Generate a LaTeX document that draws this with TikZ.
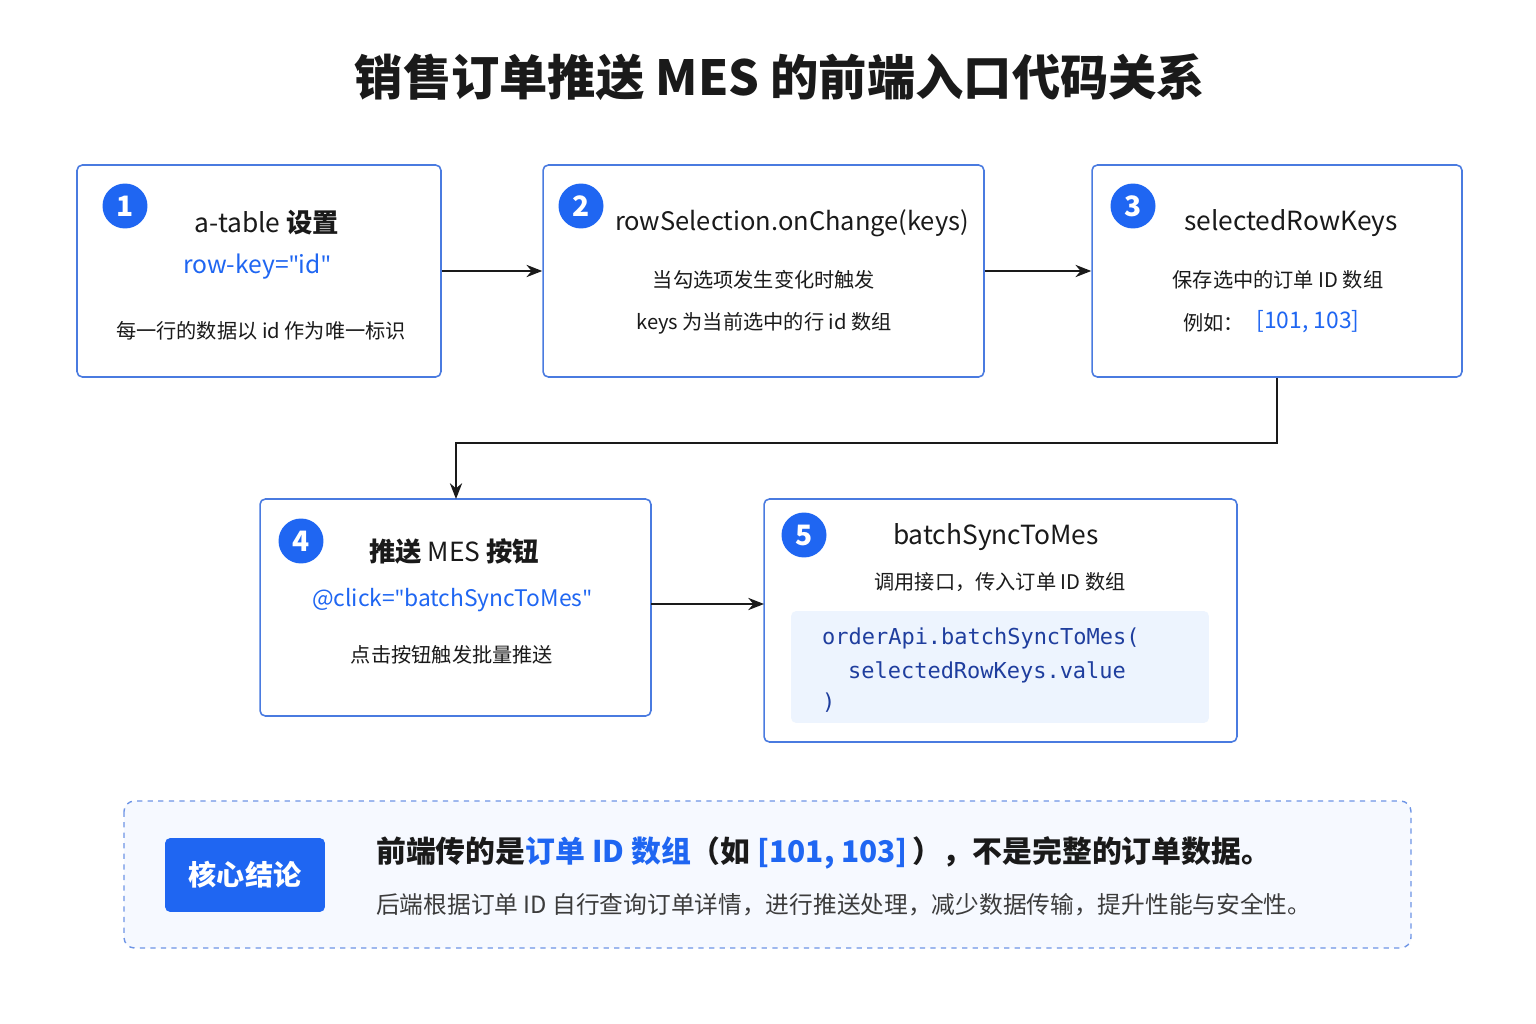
\documentclass[tikz,border=0pt]{standalone}
\usepackage{fontspec}
\setmainfont{Noto Sans CJK SC}
\newfontfamily\codefont{DejaVu Sans Mono}
\newfontfamily\latinfont{Noto Sans}
\usetikzlibrary{arrows.meta}
\definecolor{mainblue}{HTML}{1F66F2}
\definecolor{boxline}{HTML}{4A7BE0}
\definecolor{codebg}{HTML}{EDF4FE}
\definecolor{notebg}{HTML}{F6F9FF}
\definecolor{codeink}{HTML}{1F3E9E}
\definecolor{ink}{HTML}{1A1A1A}
\newcommand{\dq}{{\latinfont\symbol{34}}}
\tikzset{
  box/.style={draw=boxline, line width=0.9pt, rounded corners=3pt, fill=white, inner sep=0pt},
  num/.style={circle, fill=mainblue, text=white, minimum size=0.9cm, inner sep=0pt, font=\fontsize{16}{16}\selectfont\bfseries},
  head/.style={font=\fontsize{15}{17}\selectfont, text=ink},
  body/.style={font=\fontsize{11.5}{14}\selectfont, text=ink},
  key/.style={font=\fontsize{14}{16}\selectfont, text=mainblue},
  flow/.style={-{Stealth[length=9pt,width=7pt]}, line width=1pt, ink}
}
\begin{document}
\begin{tikzpicture}[x=0.02cm, y=-0.02cm]
\useasboundingbox[fill=white] (0,0) rectangle (1536,1024);
\node[font=\fontsize{27.5}{31}\selectfont\bfseries, text=ink] (title) at (780,77) {销售订单推送 MES 的前端入口代码关系};
% step boxes
\node[box, minimum width=7.28cm, minimum height=4.24cm] (b1) at (259,271) {};
\node[box, minimum width=8.82cm, minimum height=4.24cm] (b2) at (763.5,271) {};
\node[box, minimum width=7.40cm, minimum height=4.24cm] (b3) at (1277,271) {};
\node[box, minimum width=7.82cm, minimum height=4.34cm] (b4) at (455.5,607.5) {};
\node[box, minimum width=9.46cm, minimum height=4.86cm] (b5) at (1000.5,620.5) {};
% box 1
\node[num] (n1) at (125,206) {1};
\node[head] (h1) at (267,223) {a-table \textbf{设置}};
\node[key] (k1) at (257,267) {row-key=\dq id\dq};
\node[body] (t1) at (261,331) {每一行的数据以 id 作为唯一标识};
% box 2
\node[num] (n2) at (581,206) {2};
\node[head, font=\fontsize{14.5}{17}\selectfont] (h2) at (792,223) {rowSelection.onChange(keys)};
\node[body] (t2a) at (764,280) {当勾选项发生变化时触发};
\node[body] (t2b) at (764,323) {keys 为当前选中的行 id 数组};
% box 3
\node[num] (n3) at (1133,206) {3};
\node[head] (h3) at (1291,223) {selectedRowKeys};
\node[body] (t3a) at (1278,280) {保存选中的订单 ID 数组};
\node[body, anchor=east] (t3b) at (1250,323) {例如：};
\node[key, font=\fontsize{13}{16}\selectfont] (k3) at (1308,322) {[101,\ 103]};
% box 4
\node[num] (n4) at (301,541) {4};
\node[head] (h4) at (454,552) {\textbf{推送} MES \textbf{按钮}};
\node[key, font=\fontsize{13}{16}\selectfont] (k4) at (452,600) {@click=\dq batchSyncToMes\dq};
\node[body] (t4) at (452,655) {点击按钮触发批量推送};
% box 5
\node[num] (n5) at (804,535) {5};
\node[head] (h5) at (996,537) {batchSyncToMes};
\node[body] (t5) at (1000,582) {调用接口，传入订单 ID 数组};
\node[fill=codebg, rounded corners=3pt, minimum width=8.36cm, minimum height=2.24cm, inner sep=0pt] (code) at (1000,667) {};
\node[anchor=west, text=codeink, font=\codefont\fontsize{12.5}{15}\selectfont] (c1) at (816,638) {orderApi.batchSyncToMes(};
\node[anchor=west, text=codeink, font=\codefont\fontsize{12.5}{15}\selectfont] (c2) at (842,672) {selectedRowKeys.value};
\node[anchor=west, text=codeink, font=\codefont\fontsize{12.5}{15}\selectfont] (c3) at (816,703) {)};
% connectors
\draw[flow] (b1.east) -- (b2.west);
\draw[flow] (b2.east) -- (b3.west);
\coordinate (turn) at (1277,443);
\draw[flow] (b3.south) -- (turn) -- (456,443) -- (456,499);
\draw[flow] (651,604) -- (764,604);
% conclusion
\draw[boxline!80, dashed, line width=0.8pt, rounded corners=6pt, fill=notebg] (124,801) rectangle (1411,948);
\node[fill=mainblue, rounded corners=3pt, minimum width=3.2cm, minimum height=1.48cm, text=white, font=\fontsize{16}{18}\selectfont\bfseries] (core) at (245,875) {核心结论};
\node[anchor=west, font=\fontsize{17}{20}\selectfont\bfseries, text=ink] (m1) at (370,853) {前端传的是\textcolor{mainblue}{订单 ID 数组}（如 \textcolor{mainblue}{[101,\ 103]}\,），不是完整的订单数据。};
\node[anchor=west, font=\fontsize{13.5}{16}\selectfont, text=ink!85] (m2) at (370,905) {后端根据订单 ID 自行查询订单详情，进行推送处理，减少数据传输，提升性能与安全性。};
\end{tikzpicture}
\end{document}
